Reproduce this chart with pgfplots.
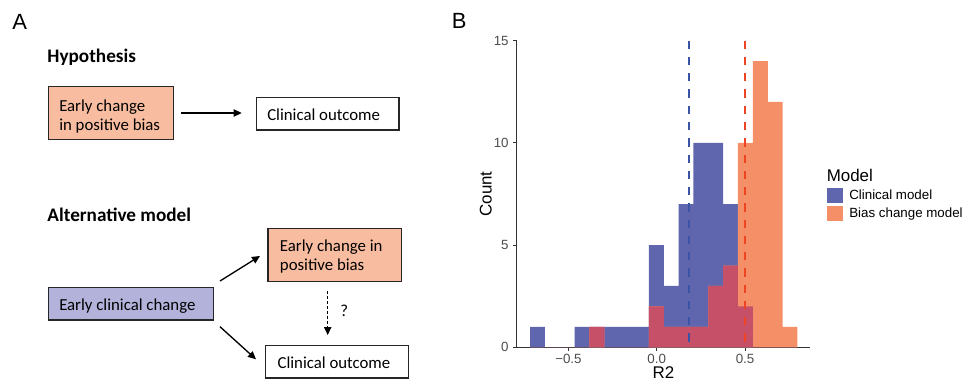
\documentclass[border=0pt]{standalone}
\usepackage{pgfplots}
\pgfplotsset{compat=1.18}
\usepackage{pgfplotstable}
\usepackage{fontspec}
\setmainfont{Liberation Sans}
\newfontfamily\carlito{Carlito}
\usetikzlibrary{arrows.meta}
\definecolor{blueC}{RGB}{96,102,174}
\definecolor{orangeC}{RGB}{244,143,104}
\definecolor{redC}{RGB}{197,80,104}
\definecolor{dashB}{RGB}{58,83,164}
\definecolor{dashR}{RGB}{238,68,35}
\definecolor{boxO}{RGB}{248,189,160}
\definecolor{boxP}{RGB}{178,178,218}
\pgfplotstableread{
x clin bias ov
-0.717 1 0 0
-0.633 0 0 0
-0.549 0 0 0
-0.465 1 0 0
-0.381 1 1 1
-0.297 1 0 0
-0.212 1 0 0
-0.128 1 0 0
-0.044 5 2 2
0.040 3 1 1
0.124 7 1 1
0.208 10 1 1
0.292 10 3 3
0.376 7 4 4
0.460 2 10 2
0.545 0 14 0
0.629 0 12 0
0.713 0 1 0
0.797 0 0 0
}\hist
\begin{document}
\begin{tikzpicture}
\useasboundingbox (0,0) rectangle (724.5pt,-288.75pt);
\begin{scope}[x=0.75pt,y=-0.75pt]
\tikzset{txt/.style={anchor=base west, inner sep=0pt, font=\carlito\fontsize{12.6pt}{14pt}\selectfont},
 hdr/.style={anchor=base west, inner sep=0pt, font=\carlito\bfseries\fontsize{14.4pt}{16pt}\selectfont},
 bx/.style={draw=black!85, line width=1.1pt},
 arr/.style={line width=1pt, -{Triangle[length=6pt,width=5.5pt]}}}
\node[anchor=base west, inner sep=0pt, font=\fontsize{16.5pt}{18pt}\selectfont] at (12,29.3) {A};
\node[anchor=base west, inner sep=0pt, font=\fontsize{16.5pt}{18pt}\selectfont] at (451.5,28.3) {B};
\node[hdr] at (47.2,62.7) {Hypothesis};
\filldraw[bx, fill=boxO] (48.3,86.7) rectangle (173.3,139.3);
\node[txt] at (59,111) {Early change};
\node[txt] at (59,130) {in positive bias};
\draw[arr] (181,113) -- (241.7,113);
\draw[bx, fill=white] (256.3,97.7) rectangle (399,130);
\node[txt] at (267,120.7) {Clinical outcome};
\node[hdr] at (47.2,221) {Alternative model};
\filldraw[bx, fill=boxO] (268,228.7) rectangle (401.3,281.7);
\node[txt] at (279.7,251.7) {Early change in};
\node[txt] at (279.7,270.7) {positive bias};
\filldraw[bx, fill=boxP] (48.3,287.3) rectangle (213.7,320);
\node[txt] at (59,310.7) {Early clinical change};
\draw[bx, fill=white] (265.7,345.7) rectangle (408.3,378);
\node[txt] at (277.3,368.3) {Clinical outcome};
\draw[arr] (220,281) -- (260,256);
\draw[arr] (220,326.7) -- (256,359.3);
\draw[line width=0.8pt, dash pattern=on 2.2pt off 1.5pt, -{Triangle[length=6pt,width=5.5pt]}] (327.7,291) -- (327.7,335);
\node[anchor=center, inner sep=0pt, font=\carlito\fontsize{12.6pt}{14pt}\selectfont] at (344.3,311) {?};
\node[anchor=base west, inner sep=0pt, font=\fontsize{12.7pt}{14pt}\selectfont] at (826.5,181.7) {Model};
\end{scope}
\begin{axis}[at={(387.525pt,-260.475pt)}, anchor=south west,
  scale only axis, width=220pt, height=230pt,
  xmin=-0.793, xmax=0.868, ymin=0, ymax=15,
  axis x line=bottom, axis y line=left,
  axis line style={-, line width=0.6pt, black!80},
  xtick={-0.5,0,0.5}, xticklabels={−0.5,0.0,0.5},
  ytick={0,5,10,15}, yticklabels={0,5,10,15},
  tick align=outside, major tick length=2.5pt,
  tick style={line width=0.6pt, black!80},
  tick label style={font=\fontsize{10pt}{12pt}\selectfont, color=black!70},
  xticklabel style={inner sep=0pt, yshift=-2.3pt},
  xlabel={R2}, ylabel={Count},
  label style={font=\fontsize{12.7pt}{14pt}\selectfont},
  xlabel style={at={(axis description cs:0.5,-0.1015)}, anchor=base, inner sep=0pt},
  ylabel style={at={(axis description cs:-0.0852,0.5)}, anchor=base, rotate=0, inner sep=0pt},
  legend style={draw=none, fill=none, at={(1.058,0.5196)}, anchor=north west, inner sep=0pt,
    font=\fontsize{10pt}{12pt}\selectfont, row sep=2pt, column sep=4.5pt,
    nodes={inner sep=0pt}},
  legend cell align=left,
  legend image code/.code={\fill[#1] (0pt,-5.6pt) rectangle (12pt,5.6pt);},
]
\addplot[ybar interval, fill=blueC, draw=none] table[x=x,y=clin]{\hist};
\addlegendentry{Clinical model}
\addplot[ybar interval, fill=orangeC, draw=none] table[x=x,y=bias]{\hist};
\addlegendentry{Bias change model}
\addplot[ybar interval, fill=redC, draw=none, forget plot] table[x=x,y=ov]{\hist};
\addplot[dashB, line width=1.5pt, dash pattern=on 6.2pt off 6pt, forget plot] coordinates {(0.183,15) (0.183,0)};
\addplot[dashR, line width=1.5pt, dash pattern=on 6.2pt off 6pt, forget plot] coordinates {(0.5,15) (0.5,0)};
\end{axis}
\end{tikzpicture}
\end{document}
